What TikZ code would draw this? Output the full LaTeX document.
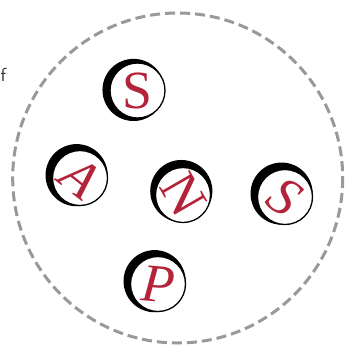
\documentclass[tikz,border=0pt]{standalone}
\usepackage{fontspec}
\setmainfont{Liberation Serif}
\usetikzlibrary{shadows}
\definecolor{letterred}{HTML}{B3233A}
\definecolor{dashgray}{HTML}{999999}
\tikzset{
  badge/.style 2 args={circle,draw=black,fill=white,line width=1.3bp,minimum size=55bp,inner sep=0pt,
    general shadow={fill=black,shadow scale=1.13,shadow xshift=#1,shadow yshift=#2}},
  letter/.style={text=letterred,font=\fontsize{54}{54}\selectfont,inner sep=0pt,rotate=#1},
}
\begin{document}
\begin{tikzpicture}[x=1bp,y=-1bp]
  \useasboundingbox (0,0) rectangle (345,347);
  \draw [dashgray,line width=3bp,dash pattern=on 10bp off 5bp] (177.7,178) circle (165);
  \node (frag) [anchor=west,text=black!80,font=\sffamily\fontsize{19}{19}\selectfont] at (-3,75) {f};

  \node [badge={-3.5bp}{0.5bp},label={[letter=0]center:S}] (stop) at (137.5,90.5) {};
  \node [badge={-3bp}{2.5bp},label={[letter=-38]center:\itshape A}] (aleft) at (80,178) {};
  \node [badge={-1.5bp}{3.5bp},label={[letter=-60]center:N}] (ncen) at (183,195) {};
  \node [badge={-3bp}{3bp},label={[letter=-35]center:\itshape S}] (sright) at (285,197) {};
  \node [badge={-3bp}{2.5bp},label={[letter=-5]center:\itshape P}] (pbot) at (158,284) {};
\end{tikzpicture}
\end{document}
